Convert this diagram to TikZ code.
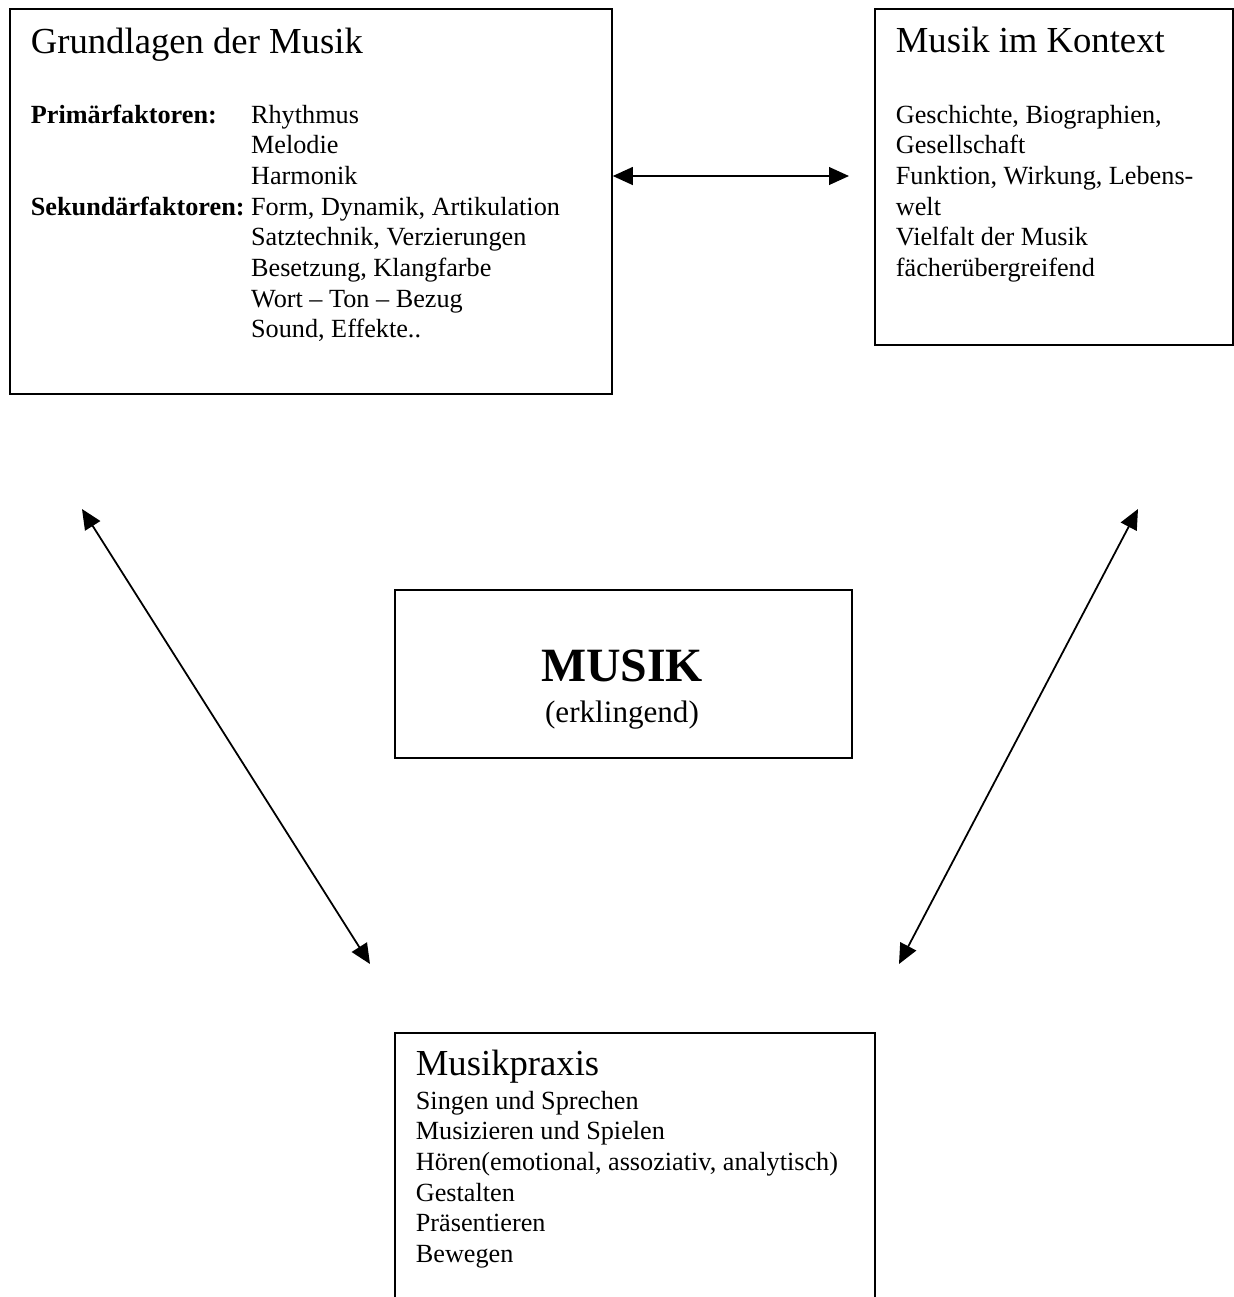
\documentclass[tikz,border=0pt]{standalone}
\usepackage{fontspec}
\setmainfont{Liberation Serif}
\usetikzlibrary{arrows.meta, positioning}

\tikzset{
  kasten/.style={draw, line width=0.8pt, inner sep=0pt, anchor=north west},
  titel/.style={inner sep=0pt, anchor=base west, font=\fontsize{16.5}{19}\selectfont},
  liste/.style={inner sep=0pt, anchor=base west, font=\fontsize{11.8}{13.8}\selectfont},
}

\begin{document}
\begin{tikzpicture}[x=0.45pt, y=-0.45pt, >={Triangle[length=9pt,width=8pt]}, line width=0.8pt]

\clip (0,0) rectangle (1234,1297);

% Grundlagen der Musik
\node[kasten, minimum width=270.9pt, minimum height=173.25pt] (grund) at (9,8) {};
\node[titel] (grundtitel) at (30,53) {Grundlagen der Musik};
\node[liste] (grundliste) at (30,123) {\begin{tabular}[t]{@{}l@{\ }l@{}}
\textbf{Primärfaktoren:} & Rhythmus\\
 & Melodie\\
 & Harmonik\\
\textbf{Sekundärfaktoren:} & Form, Dynamik, Artikulation\\
 & Satztechnik, Verzierungen\\
 & Besetzung, Klangfarbe\\
 & Wort – Ton – Bezug\\
 & Sound, Effekte..
\end{tabular}};

% Musik im Kontext
\node[kasten, minimum width=161.1pt, minimum height=151.2pt] (kontext) at (874,8) {};
\node[titel] (kontexttitel) at (895,52) {Musik im Kontext};
\node[liste] (kontextliste) at (895,123) {\begin{tabular}[t]{@{}l@{}}
Geschichte, Biographien,\\
Gesellschaft\\
Funktion, Wirkung, Lebens-\\
welt\\
Vielfalt der Musik\\
fächerübergreifend
\end{tabular}};

% MUSIK
\node[kasten, minimum width=205.65pt, minimum height=75.6pt] (musik) at (394,589) {};
\node[inner sep=0pt, anchor=base, font=\fontsize{21.5}{24}\selectfont\bfseries] (musiktitel) at (622,681) {MUSIK};
\node[inner sep=0pt, anchor=base, font=\fontsize{14}{16}\selectfont] (musikzusatz) at (622,722) {(erklingend)};

% Musikpraxis
\node[kasten, minimum width=216pt, minimum height=135pt] (praxis) at (394,1032) {};
\node[titel] (praxistitel) at (415,1075) {Musikpraxis};
\node[liste] (praxisliste) at (415,1109) {\begin{tabular}[t]{@{}l@{}}
Singen und Sprechen\\
Musizieren und Spielen\\
Hören(emotional, assoziativ, analytisch)\\
Gestalten\\
Präsentieren\\
Bewegen
\end{tabular}};

% Pfeile
\coordinate (pk) at (849,176);
\coordinate (pl1) at (82,509);
\coordinate (pl2) at (370,964);
\coordinate (pr1) at (1138,509);
\coordinate (pr2) at (899,964);

\draw[<->] (grund.east |- pk) -- (pk);
\draw[<->] (pl1) -- (pl2);
\draw[<->] (pr1) -- (pr2);

\end{tikzpicture}
\end{document}
